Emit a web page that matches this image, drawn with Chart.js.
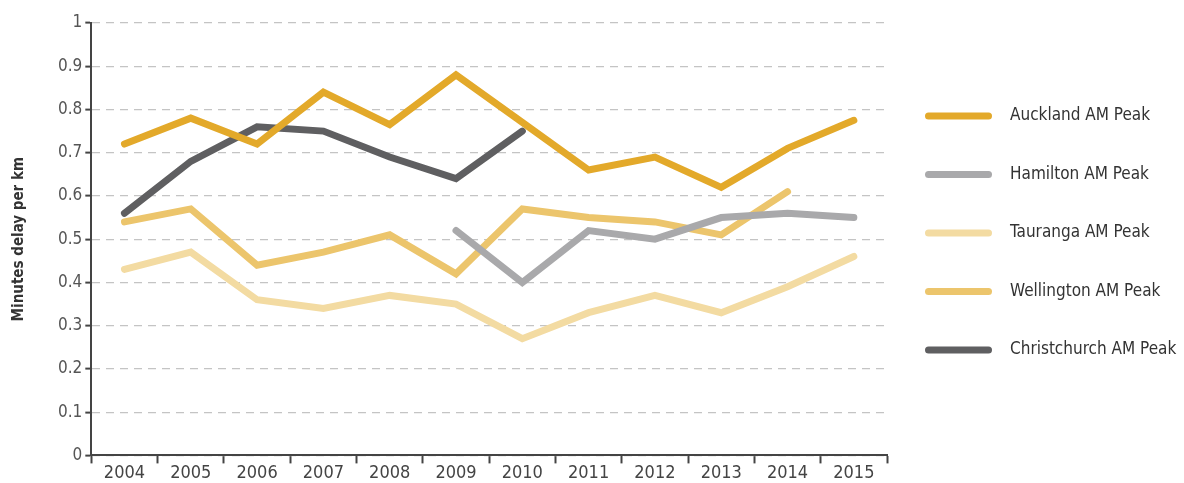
<!DOCTYPE html>
<html>
<head>
<meta charset="utf-8">
<script src="https://cdn.jsdelivr.net/npm/chart.js@4.4.1/dist/chart.umd.min.js"></script>
<style>
    html, body { margin: 0; padding: 0; background: #fff; }
    #wrap { width: 1184px; height: 483px; position: relative; }
</style>
</head>
<body>
<div id="wrap"><canvas id="delay-chart"></canvas></div>
<script>
// Data
const years = ['2004', '2005', '2006', '2007', '2008', '2009', '2010', '2011', '2012', '2013', '2014', '2015'];
const auckland = [0.72, 0.78, 0.72, 0.84, 0.765, 0.88, 0.77, 0.66, 0.69, 0.62, 0.71, 0.775];
const hamilton = [null, null, null, null, null, 0.52, 0.40, 0.52, 0.50, 0.55, 0.56, 0.55];
const tauranga = [0.43, 0.47, 0.36, 0.34, 0.37, 0.35, 0.27, 0.33, 0.37, 0.33, 0.39, 0.46];
const wellington = [0.54, 0.57, 0.44, 0.47, 0.51, 0.42, 0.57, 0.55, 0.54, 0.51, 0.61, null];
const christchurch = [0.56, 0.68, 0.76, 0.75, 0.69, 0.64, 0.75, null, null, null, null, null];
const yMin = 0, yMax = 1, yStep = 0.1;

const FONT = "'DejaVu Sans Condensed', 'DejaVu Sans', sans-serif";

// Legend drawn to the right of the plot, one line sample per dataset
const sideLegend = {
    id: 'sideLegend',
    afterDraw: function(chart, args, opts) {
        let ctx = chart.ctx;
        let x0 = chart.chartArea.right + opts.offset;
        chart.data.datasets.forEach(function(ds, i) {
            let y = opts.top + i * opts.spacing;
            ctx.save();
            ctx.strokeStyle = ds.borderColor;
            ctx.lineWidth = 7;
            ctx.lineCap = 'round';
            ctx.beginPath();
            ctx.moveTo(x0 + 3.5, y);
            ctx.lineTo(x0 + opts.lineLength - 3.5, y);
            ctx.stroke();
            ctx.fillStyle = '#333';
            ctx.font = '17px ' + FONT;
            ctx.textBaseline = 'middle';
            ctx.fillText(ds.label, x0 + opts.lineLength + opts.gap, y);
            ctx.restore();
        });
    }
};

function series(label, color, data) {
    return {
        label: label,
        data: data,
        borderColor: color,
        backgroundColor: color,
        borderWidth: 7,
        pointRadius: 0,
        pointHoverRadius: 0,
        tension: 0,
        fill: false,
        borderCapStyle: 'round',
        borderJoinStyle: 'miter',
        spanGaps: false
    };
}

new Chart(document.getElementById('delay-chart'), {
    type: 'line',
    data: {
        labels: years,
        datasets: [
            series('Auckland AM Peak', '#E3A92A', auckland),
            series('Hamilton AM Peak', '#A9A9AB', hamilton),
            series('Tauranga AM Peak', '#F3DBA2', tauranga),
            series('Wellington AM Peak', '#ECC56C', wellington),
            series('Christchurch AM Peak', '#5F5F61', christchurch)
        ]
    },
    options: {
        responsive: true,
        maintainAspectRatio: false,
        animation: false,
        layout: {
            padding: { left: 10, right: 297, top: 23, bottom: 0 }
        },
        scales: {
            x: {
                offset: true,
                grid: {
                    offset: true,
                    drawOnChartArea: false,
                    drawTicks: true,
                    tickLength: 8,
                    tickColor: '#444',
                    tickWidth: 2
                },
                border: { color: '#444', width: 2 },
                ticks: {
                    color: '#444',
                    font: { family: FONT, size: 18 },
                    padding: -1,
                    maxRotation: 0
                }
            },
            y: {
                min: yMin,
                max: yMax,
                ticks: {
                    stepSize: yStep,
                    color: '#555',
                    font: { family: FONT, size: 17 },
                    padding: 3,
                    callback: function(value) {
                        return String(Number(value.toFixed(1)));
                    }
                },
                grid: {
                    color: '#c4c4c4',
                    lineWidth: 1.2,
                    drawTicks: true,
                    tickLength: 6,
                    tickColor: '#444',
                    tickWidth: 2,
                    tickBorderDash: []
                },
                border: { color: '#444', width: 2, dash: [8, 6] },
                title: {
                    display: true,
                    text: 'Minutes delay per km',
                    color: '#333',
                    font: { family: FONT, size: 15, weight: 'bold' },
                    padding: { top: 0, bottom: 27 }
                }
            }
        },
        plugins: {
            legend: { display: false },
            tooltip: { enabled: false },
            sideLegend: { offset: 38, top: 116, spacing: 58.5, lineLength: 67, gap: 18 }
        }
    },
    plugins: [sideLegend]
});
</script>
</body>
</html>
